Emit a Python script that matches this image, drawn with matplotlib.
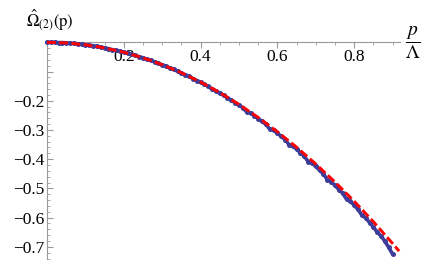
import matplotlib
matplotlib.use("Agg")
import matplotlib.pyplot as plt
from matplotlib.ticker import MultipleLocator, FixedLocator

plt.rcParams['mathtext.fontset'] = 'stix'
plt.rcParams['font.family'] = ['Liberation Serif', 'DejaVu Serif']

# Data
p_pts = [i / 100 for i in range(0, 91)]
omega_pts = [0.000, -0.000, -0.000, -0.001, -0.001, -0.002, -0.003, -0.004, -0.005, -0.007,
             -0.008, -0.010, -0.012, -0.014, -0.017, -0.019, -0.022, -0.025, -0.028, -0.031,
             -0.034, -0.038, -0.041, -0.045, -0.049, -0.053, -0.058, -0.062, -0.067, -0.072,
             -0.077, -0.082, -0.088, -0.093, -0.099, -0.105, -0.111, -0.117, -0.124, -0.131,
             -0.137, -0.144, -0.151, -0.161, -0.166, -0.174, -0.182, -0.190, -0.198, -0.207,
             -0.215, -0.224, -0.238, -0.242, -0.251, -0.261, -0.271, -0.281, -0.297, -0.301,
             -0.311, -0.322, -0.333, -0.350, -0.355, -0.366, -0.378, -0.390, -0.408, -0.413,
             -0.425, -0.438, -0.451, -0.470, -0.477, -0.490, -0.504, -0.517, -0.537, -0.544,
             -0.558, -0.572, -0.592, -0.601, -0.617, -0.632, -0.650, -0.663, -0.681, -0.702,
             -0.725]

p_fit = [0.0, 0.05, 0.10, 0.15, 0.20, 0.25, 0.30, 0.35, 0.40, 0.45, 0.50,
         0.55, 0.60, 0.65, 0.70, 0.75, 0.80, 0.85, 0.90, 0.917]
omega_fit = [0.0, -0.0021, -0.0085, -0.0191, -0.0340, -0.0531, -0.0765, -0.1041, -0.1360,
             -0.1721, -0.2125, -0.2571, -0.3060, -0.3591, -0.4165, -0.4781, -0.5440,
             -0.6141, -0.6885, -0.7147]

x_major = [0.2, 0.4, 0.6, 0.8]
x_labels = ['0.2', '0.4', '0.6', '0.8']
y_major = [-0.1, -0.2, -0.3, -0.4, -0.5, -0.6, -0.7]
y_labels = ['', '\u22120.2', '\u22120.3', '\u22120.4', '\u22120.5', '\u22120.6', '\u22120.7']

W, H = 434, 260
fig = plt.figure(figsize=(W / 100, H / 100), dpi=100)
ax = fig.add_axes([47 / W, 0.0, 0.919 * 384 / W, (H - 42.3) / H])
ax.set_xlim(0, 0.919)
ax.set_ylim(-0.745, 0.0)

blue = '#3d3d99'
ax.plot(p_pts, omega_pts, linestyle='-', linewidth=2.6, color=blue,
        solid_capstyle='round', solid_joinstyle='round', clip_on=False, zorder=2)
ax.plot(p_pts, omega_pts, linestyle='none', marker='o', markersize=3.6,
        markeredgewidth=0, color=blue, clip_on=False, zorder=2)
ax.plot(p_fit, omega_fit, color='#ff0000', linewidth=2.1, dashes=(3.0, 1.2),
        clip_on=False, zorder=3)

axis_gray = '#9a9a9a'
for s in ['right', 'top']:
    ax.spines[s].set_visible(False)
ax.spines['bottom'].set_position(('data', 0))
ax.spines['left'].set_position(('data', 0))
ax.spines['bottom'].set_color(axis_gray)
ax.spines['left'].set_color(axis_gray)
ax.spines['bottom'].set_linewidth(0.8)
ax.spines['left'].set_linewidth(0.8)
ax.spines['bottom'].set_zorder(1)
ax.spines['left'].set_zorder(1)

ax.xaxis.set_major_locator(FixedLocator(x_major))
ax.set_xticklabels(x_labels)
ax.xaxis.set_minor_locator(MultipleLocator(0.05))
ax.yaxis.set_major_locator(FixedLocator(y_major))
ax.set_yticklabels(y_labels)
ax.yaxis.set_minor_locator(MultipleLocator(0.02))

ax.tick_params(axis='x', which='major', direction='out', length=4, width=0.8,
               color=axis_gray, labelsize=12.5, pad=1)
ax.tick_params(axis='x', which='minor', direction='out', length=2.2, width=0.6,
               color=axis_gray)
ax.tick_params(axis='y', which='major', direction='in', length=4, width=0.8,
               color=axis_gray, labelsize=12.5, pad=2)
ax.tick_params(axis='y', which='minor', direction='in', length=2.2, width=0.6,
               color=axis_gray)

fig.text(26 / W, 1 - 20 / H, r'$\hat{\Omega}_{(2)}(\mathrm{p})$', fontsize=12,
         ha='left', va='center')
fig.text(413 / W, 1 - 43 / H, r'$\dfrac{p}{\Lambda}$', fontsize=14,
         ha='center', va='center')

fig.savefig('out.png', dpi=100)
